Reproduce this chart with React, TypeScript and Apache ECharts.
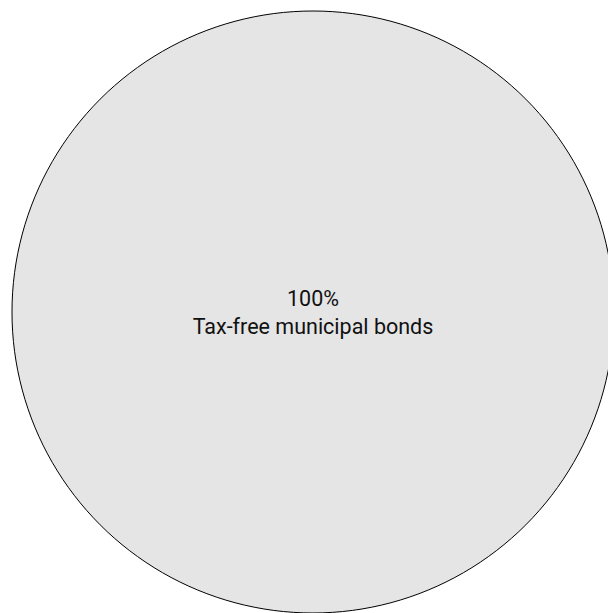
import React, { useEffect, useRef } from "react";
import * as echarts from "echarts";

const categories = ["Tax-free municipal bonds"];
const values = [100];

export default function App() {
  const ref = useRef<HTMLDivElement>(null);
  useEffect(() => {
    if (!ref.current) return;
    const chart = echarts.init(ref.current, null, { renderer: "svg" });
    const total = values.reduce((a, b) => a + b, 0);
    chart.setOption({
      animation: false,
      series: [
        {
          type: "pie",
          center: [313, 312],
          radius: [0, 301],
          startAngle: 90,
          silent: true,
          itemStyle: { color: "#e5e5e5", borderColor: "#000", borderWidth: 1 },
          label: {
            show: true,
            position: "center",
            fontFamily: "Roboto, sans-serif",
            fontSize: 21.5,
            lineHeight: 28,
            color: "#111",
            formatter: (p: any) => `${Math.round((p.value / total) * 100)}%\n${p.name}`,
          },
          labelLine: { show: false },
          emphasis: { disabled: true },
          data: categories.map((c, i) => ({ name: c, value: values[i] })),
        },
      ],
    });
    return () => chart.dispose();
  }, []);
  return (
    <div
      ref={ref}
      style={{ position: "fixed", left: 0, top: 0, width: 608, height: 613, background: "#fff" }}
    />
  );
}
